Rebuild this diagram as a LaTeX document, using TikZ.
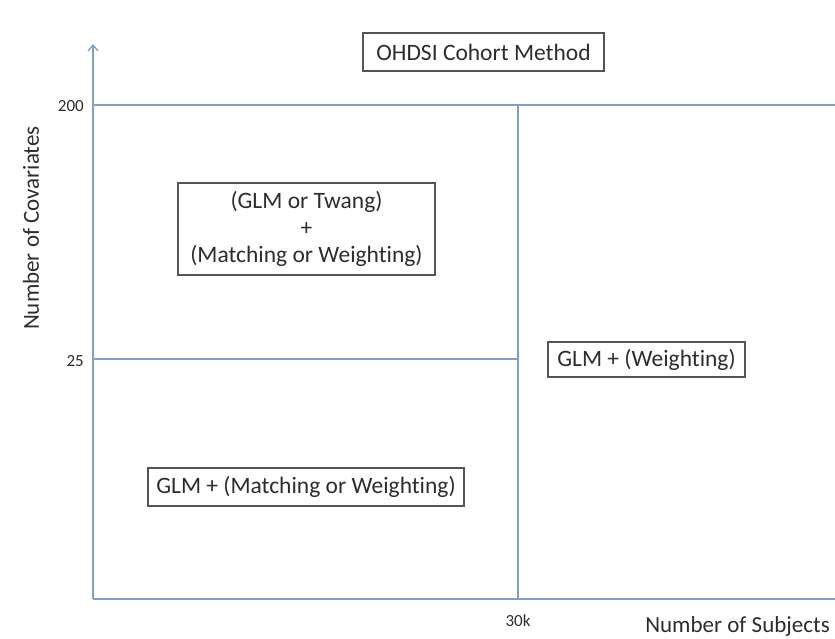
\documentclass[tikz,border=0pt]{standalone}
\usepackage{fontspec}
\setmainfont{Carlito}[Ligatures={NoCommon}]
\usetikzlibrary{arrows.meta}
\definecolor{axis}{RGB}{125,160,205}
\definecolor{txt}{RGB}{45,45,45}
\definecolor{boxline}{RGB}{85,85,85}
\begin{document}
\begin{tikzpicture}[x=1pt,y=-1pt,
  axisline/.style={draw=axis,line width=1.3pt},
  labelbox/.style={draw=boxline,line width=1.1pt,fill=white,text=txt,font=\fontsize{23.5}{27}\selectfont,align=center,inner sep=0pt},
  ticklab/.style={text=txt,font=\fontsize{17}{19}\selectfont,inner sep=0pt},
  axlab/.style={text=txt,font=\fontsize{23}{25}\selectfont,inner sep=0pt}]
\useasboundingbox (0,0) rectangle (835,639);
% axes
\coordinate (O) at (93,599);
\coordinate (ytop) at (93,44);
\coordinate (xend) at (836,599);
\draw[axisline,-{Straight Barb[length=6pt,width=10pt]}] (O) -- (ytop);
\draw[axisline] (O) -- (xend);
\coordinate (h1a) at (93,105); \coordinate (h1b) at (835,105);
\coordinate (h2a) at (93,359); \coordinate (h2b) at (518,359);
\coordinate (v1a) at (518,105); \coordinate (v1b) at (518,599);
\draw[axisline] (h1a) -- (h1b);
\draw[axisline] (h2a) -- (h2b);
\draw[axisline] (v1a) -- (v1b);
% tick labels
\node[ticklab,anchor=east] (t200) at (84,106) {200};
\node[ticklab,anchor=east] (t25) at (84,361) {25};
\node[ticklab] (t30k) at (518,621) {30k};
\node[axlab,anchor=east] (xlab) at (830,626) {Number of Subjects};
\node[axlab,rotate=90] (ylab) at (31,228) {Number of Covariates};
% boxes
\node[labelbox,minimum width=241pt,minimum height=38pt] (ohdsi) at (483.5,52) {OHDSI Cohort Method};
\node[labelbox,minimum width=257pt,minimum height=92pt] (upper) at (306.5,229) {(GLM or Twang)\\+\\(Matching or Weighting)};
\node[labelbox,minimum width=197pt,minimum height=35pt] (right) at (646.5,359.5) {GLM + (Weighting)};
\node[labelbox,minimum width=316pt,minimum height=38pt] (lower) at (306,487) {GLM + (Matching or Weighting)};
\end{tikzpicture}
\end{document}
